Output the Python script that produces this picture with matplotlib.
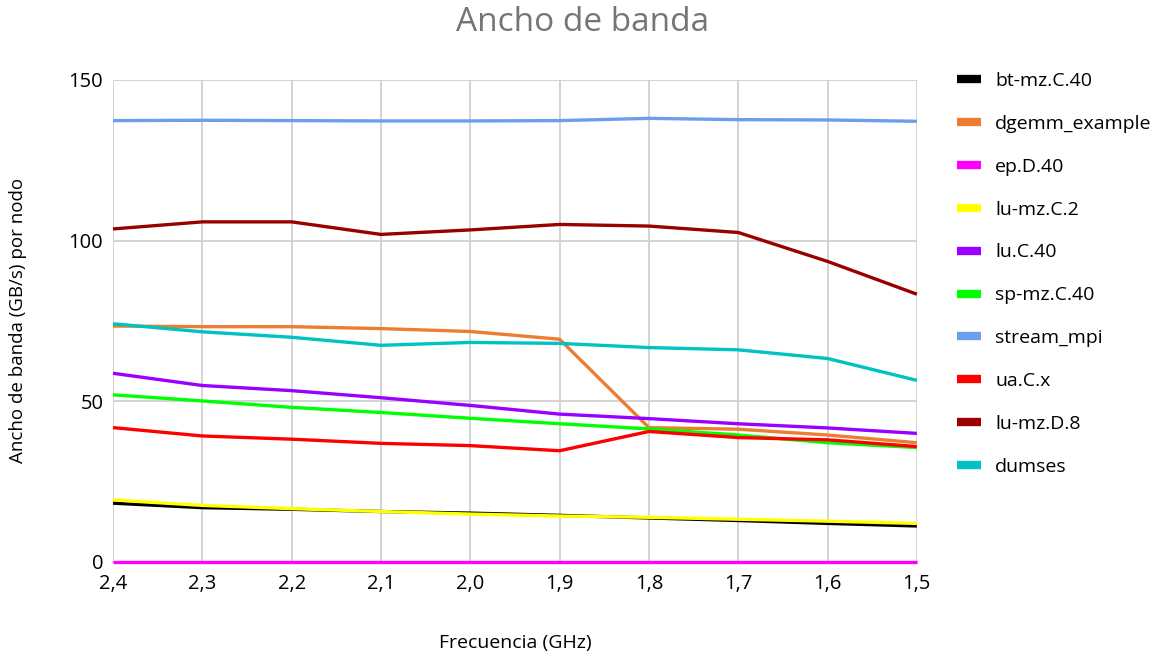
import matplotlib
matplotlib.use("Agg")
import matplotlib.pyplot as plt

frequencies = ["2,4", "2,3", "2,2", "2,1", "2,0", "1,9", "1,8", "1,7", "1,6", "1,5"]

bt_mz_C40 = [18.3, 16.9, 16.4, 15.7, 15.2, 14.5, 13.7, 12.9, 12.0, 11.2]
dgemm_example = [73.4, 73.2, 73.2, 72.6, 71.7, 69.3, 41.8, 41.3, 39.5, 37.1]
ep_D40 = [0, 0, 0, 0, 0, 0, 0, 0, 0, 0]
lu_mz_C2 = [19.3, 17.6, 16.6, 15.7, 14.9, 14.3, 13.9, 13.3, 12.7, 12.0]
lu_C40 = [58.7, 54.9, 53.3, 51.1, 48.7, 46.0, 44.6, 43.0, 41.7, 40.0]
sp_mz_C40 = [52.0, 50.1, 48.1, 46.5, 44.7, 43.0, 41.4, 39.5, 37.1, 35.6]
stream_mpi = [137.3, 137.4, 137.3, 137.2, 137.2, 137.3, 138.0, 137.6, 137.5, 137.1]
ua_C_x = [41.8, 39.2, 38.2, 36.9, 36.2, 34.6, 40.6, 38.7, 38.0, 35.9]
lu_mz_D8 = [103.6, 105.8, 105.8, 101.9, 103.3, 105.0, 104.5, 102.5, 93.5, 83.3]
dumses = [74.1, 71.6, 69.9, 67.4, 68.3, 68.0, 66.7, 66.0, 63.3, 56.5]

series = [
    ("bt-mz.C.40", bt_mz_C40, "#000000"),
    ("dgemm_example", dgemm_example, "#ED7D31"),
    ("ep.D.40", ep_D40, "#FF00FF"),
    ("lu-mz.C.2", lu_mz_C2, "#FFFF00"),
    ("lu.C.40", lu_C40, "#9900FF"),
    ("sp-mz.C.40", sp_mz_C40, "#00FF00"),
    ("stream_mpi", stream_mpi, "#6D9EEB"),
    ("ua.C.x", ua_C_x, "#FF0000"),
    ("lu-mz.D.8", lu_mz_D8, "#990000"),
    ("dumses", dumses, "#00C2C2"),
]

plt.rcParams["font.family"] = ["Open Sans", "DejaVu Sans"]

fig = plt.figure(figsize=(11.65, 6.54), dpi=100)
ax = fig.add_axes([0.097, 0.1407, 0.69, 0.7373])

x = list(range(len(frequencies)))
for name, values, color in series:
    ax.plot(x, values, color=color, linewidth=2.4, label=name,
            solid_capstyle="butt", clip_on=False, zorder=3)

ax.set_xlim(0, len(frequencies) - 1)
ax.set_ylim(0, 150)
ax.set_xticks(x)
ax.set_xticklabels(frequencies)
ax.set_yticks([0, 50, 100, 150])
ax.tick_params(axis="both", length=0, labelsize=14.5, colors="#000000")
ax.tick_params(axis="y", pad=7)
ax.tick_params(axis="x", pad=9)
ax.grid(True, color="#D0D0D0", linewidth=1.3)
ax.set_axisbelow(True)
for side in ("top", "right", "left"):
    ax.spines[side].set_visible(False)
ax.spines["bottom"].set_color("#D0D0D0")
ax.spines["bottom"].set_linewidth(1.3)

ax.set_xlabel("Frecuencia (GHz)", fontsize=14)
ax.set_ylabel("Ancho de banda (GB/s) por nodo", fontsize=13.5)
ax.xaxis.set_label_coords(0.5, -0.168)
ax.yaxis.set_label_coords(-0.118, 0.5)
ax.xaxis.label.set_va("center")
ax.yaxis.label.set_va("center")
fig.suptitle("Ancho de banda", fontsize=24, color="#757575", y=0.966, va="center")

leg = fig.legend(
    loc="upper left",
    bbox_to_anchor=(0.8215, 0.890),
    frameon=False,
    fontsize=14,
    borderpad=0,
    borderaxespad=0,
    handlelength=1.25,
    handletextpad=0.72,
    labelspacing=1.28,
)
for line in leg.get_lines():
    line.set_linewidth(6)
    line.set_solid_capstyle("butt")

fig.savefig("out.png", dpi=100)
